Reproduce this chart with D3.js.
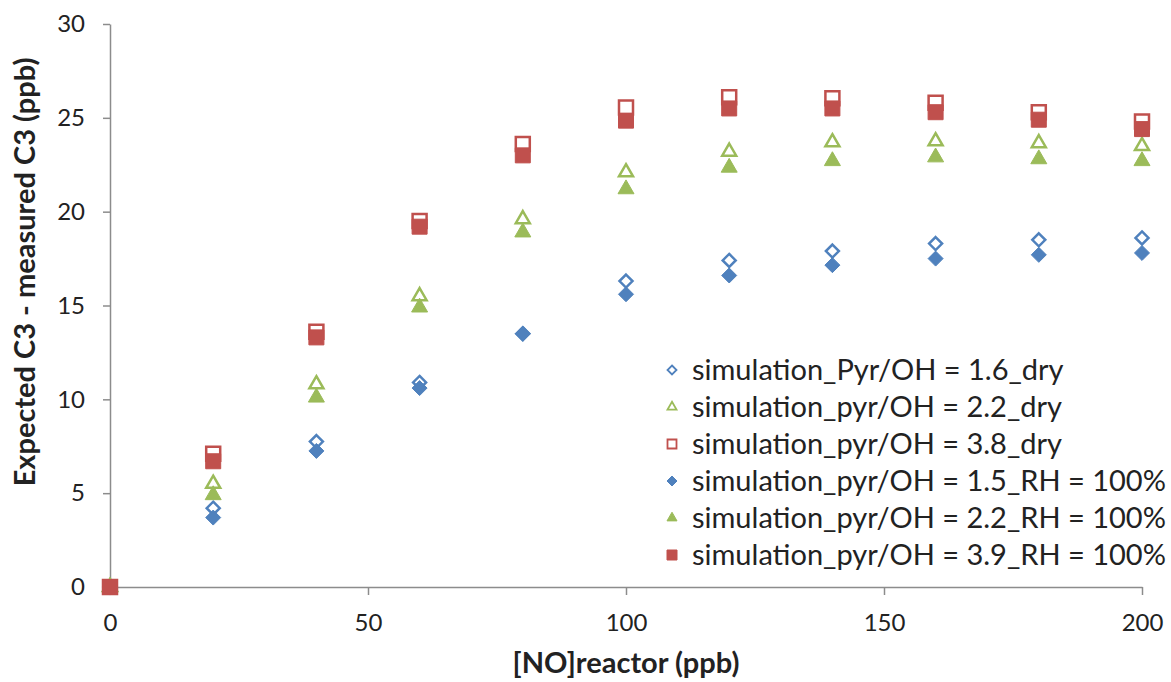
<!DOCTYPE html>
<html>
<head>
<meta charset="utf-8">
<script src="https://cdn.jsdelivr.net/npm/d3@7"></script>
<style>
  body { margin: 0; background: #fff; }
  text { font-family: Lato, "Open Sans", sans-serif; fill: #222; }
</style>
</head>
<body>
<div id="graphic"></div>
<script>
// NO in reactor (ppb)
const noReactor = [0, 20, 40, 60, 80, 100, 120, 140, 160, 180, 200];

// expected C3 - measured C3 (ppb), one list per simulation
const dry16 = [0, 4.2, 7.75, 10.9, 13.5, 16.3, 17.4, 17.9, 18.3, 18.5, 18.6];
const dry22 = [0, 5.5, 10.8, 15.5, 19.6, 22.1, 23.2, 23.7, 23.75, 23.65, 23.5];
const dry38 = [0, 7.1, 13.6, 19.5, 23.6, 25.55, 26.1, 26.05, 25.8, 25.3, 24.8];
const rh15 = [0, 3.7, 7.25, 10.6, 13.5, 15.6, 16.6, 17.15, 17.5, 17.7, 17.8];
const rh22 = [0, 4.9, 10.1, 14.9, 18.9, 21.2, 22.35, 22.7, 22.9, 22.8, 22.7];
const rh39 = [0, 6.7, 13.3, 19.2, 23.0, 24.85, 25.5, 25.5, 25.3, 24.9, 24.4];

const seriesNames = [
  'simulation_Pyr/OH = 1.6_dry',
  'simulation_pyr/OH = 2.2_dry',
  'simulation_pyr/OH = 3.8_dry',
  'simulation_pyr/OH = 1.5_RH = 100%',
  'simulation_pyr/OH = 2.2_RH = 100%',
  'simulation_pyr/OH = 3.9_RH = 100%'
];

const xTicks = [0, 50, 100, 150, 200];
const yTicks = [0, 5, 10, 15, 20, 25, 30];

(function () {
  var width = 1171;
  var height = 682;

  var blue = '#4f81bd', green = '#9bbb59', red = '#c0504d';

  // marker style for each series, in drawing order
  var series = [
    { name: seriesNames[0], values: dry16, shape: 'diamond', filled: false, color: blue },
    { name: seriesNames[1], values: dry22, shape: 'triangle', filled: false, color: green },
    { name: seriesNames[2], values: dry38, shape: 'square', filled: false, color: red },
    { name: seriesNames[3], values: rh15, shape: 'diamond', filled: true, color: blue },
    { name: seriesNames[4], values: rh22, shape: 'triangle', filled: true, color: green },
    { name: seriesNames[5], values: rh39, shape: 'square', filled: true, color: red }
  ];

  var svg = d3.select('#graphic').append('svg')
    .attr('width', width)
    .attr('height', height);

  var x = d3.scaleLinear().domain([0, 200]).range([110, 1142]);
  var y = d3.scaleLinear().domain([0, 30]).range([587, 24]);

  // axes
  var xAxis = svg.append('g')
    .attr('transform', 'translate(0,' + y(0) + ')')
    .call(d3.axisBottom(x).tickValues(xTicks).tickSize(8).tickPadding(19).tickSizeOuter(0));
  var yAxis = svg.append('g')
    .attr('transform', 'translate(' + x(0) + ',0)')
    .call(d3.axisLeft(y).tickValues(yTicks).tickSize(7).tickPadding(18).tickSizeOuter(0));

  [xAxis, yAxis].forEach(function (g) {
    g.select('.domain').attr('stroke', '#8c8c8c').attr('stroke-width', 1.5);
    g.selectAll('.tick line').attr('stroke', '#8c8c8c').attr('stroke-width', 1.5);
    g.selectAll('.tick text')
      .style('font-family', 'Lato, "Open Sans", sans-serif')
      .style('font-size', '24px')
      .attr('fill', '#222');
  });

  // marker path generator, size is the full width of the marker
  function markerPath(shape, s) {
    var h = s / 2;
    if (shape === 'diamond') {
      return 'M0,' + (-h) + 'L' + h + ',0L0,' + h + 'L' + (-h) + ',0Z';
    }
    if (shape === 'triangle') {
      var t = s * 0.866;
      return 'M0,' + (-t * 2 / 3) + 'L' + h + ',' + (t / 3) + 'L' + (-h) + ',' + (t / 3) + 'Z';
    }
    return 'M' + (-h) + ',' + (-h) + 'H' + h + 'V' + h + 'H' + (-h) + 'Z';
  }

  function markerSize(d) {
    if (d.shape === 'diamond') return d.filled ? 15 : 13;
    if (d.shape === 'triangle') return d.filled ? 16 : 14;
    return d.filled ? 15 : 14;
  }

  var marks = svg.append('g');
  series.forEach(function (s) {
    marks.append('g')
      .selectAll('path')
      .data(s.values.map(function (v, i) { return [noReactor[i], v]; }))
      .enter().append('path')
      .attr('transform', function (d) { return 'translate(' + x(d[0]) + ',' + y(d[1]) + ')'; })
      .attr('d', markerPath(s.shape, markerSize(s)))
      .attr('fill', s.filled ? s.color : '#fff')
      .attr('stroke', s.color)
      .attr('stroke-width', s.filled ? 1 : 2.5)
      .attr('stroke-linejoin', 'miter');
  });

  // legend
  var legend = svg.append('g').attr('transform', 'translate(672,370)');
  var rows = legend.selectAll('g')
    .data(series)
    .enter().append('g')
    .attr('transform', function (d, i) { return 'translate(0,' + (i * 37) + ')'; });

  rows.append('path')
    .attr('d', function (d) { return markerPath(d.shape, d.filled ? 10 : 9); })
    .attr('fill', function (d) { return d.filled ? d.color : '#fff'; })
    .attr('stroke', function (d) { return d.color; })
    .attr('stroke-width', function (d) { return d.filled ? 1 : 1.8; });

  rows.append('text')
    .attr('x', 20)
    .attr('dy', '0.36em')
    .style('font-size', '29px')
    .text(function (d) { return d.name; });

  // axis titles
  svg.append('text')
    .attr('x', 626)
    .attr('y', 673)
    .attr('text-anchor', 'middle')
    .style('font-size', '29px')
    .style('font-weight', 'bold')
    .text('[NO]reactor (ppb)');

  svg.append('text')
    .attr('transform', 'translate(25,272) rotate(-90)')
    .attr('text-anchor', 'middle')
    .attr('dy', '0.35em')
    .style('font-size', '29px')
    .style('font-weight', 'bold')
    .text('Expected C3 - measured C3 (ppb)');
})()
</script>
</body>
</html>
